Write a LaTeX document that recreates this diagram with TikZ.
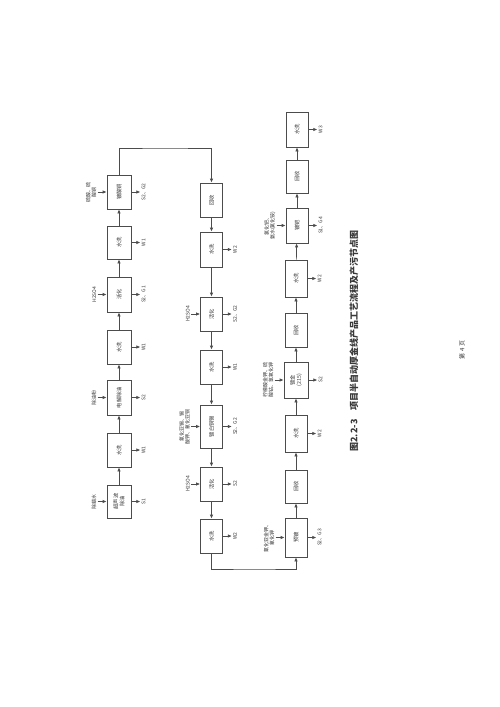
\documentclass[tikz,border=0pt]{standalone}
\usepackage{fontspec}
\setmainfont{Noto Sans CJK SC}
\usetikzlibrary{arrows.meta}
\definecolor{lineC}{gray}{0.3}
\definecolor{textC}{gray}{0.22}
\newcommand{\bxf}{\fontsize{5.3}{6.3}\selectfont}
\newcommand{\lbf}{\fontsize{5}{5.8}\selectfont}
\newcommand{\capf}{\fontsize{9}{10}\selectfont\bfseries}
\newcommand{\pnf}{\fontsize{6}{7}\selectfont}
\newcommand{\myin}[3]{\draw[arr] ([xshift=-9pt]#1.north) node[lbl,anchor=south] (#2) {#3} -- (#1.north);}
\newcommand{\myout}[3]{\draw[arr] (#1.south) -- ([xshift=9pt]#1.south) node[lbl,anchor=north] (#2) {#3};}
\begin{document}
\begin{tikzpicture}[x=1pt,y=-1pt,
  box/.style={draw=lineC, line width=0.7pt, fill=white, rotate=90, minimum width=34pt, minimum height=22pt, inner sep=1pt, align=center, font=\bxf, text=textC},
  lbl/.style={rotate=90, inner sep=1pt, align=center, font=\lbf, text=textC},
  arr/.style={draw=lineC, line width=0.7pt, -{Latex[length=4pt,width=3.4pt]}},
  link/.style={draw=lineC, line width=0.7pt}]
\useasboundingbox[fill=white] (0,0) rectangle (500,707);
% column 1
\node[box, minimum height=24pt, minimum width=33pt] (a1) at (119,501.5) {超声波\\除油};
\node[box, minimum height=24pt] (a2) at (119,450) {水洗};
\node[box, minimum height=24pt, minimum width=35pt] (a3) at (119,397.5) {电解除油};
\node[box, minimum height=24pt] (a4) at (119,347) {水洗};
\node[box, minimum height=24pt, minimum width=35pt] (a5) at (119,294.5) {活化};
\node[box, minimum height=24pt, minimum width=33pt] (a6) at (119,242.5) {水洗};
\node[box, minimum height=24pt] (a7) at (119,192) {镀酸铜};
\foreach \p/\q in {a1/a2,a2/a3,a3/a4,a4/a5,a5/a6,a6/a7} \draw[arr] (\p) -- (\q);
\myin{a1}{ia1}{除蜡水}
\myin{a3}{ia3}{除油粉}
\myin{a5}{ia5}{H2SO4}
\myin{a7}{ia7}{硫酸、硫\\酸铜}
\myout{a1}{oa1}{S1}
\myout{a2}{oa2}{W1}
\myout{a3}{oa3}{S2}
\myout{a4}{oa4}{W1}
\myout{a5}{oa5}{S2、G1}
\myout{a6}{oa6}{W1}
\myout{a7}{oa7}{S2、G2}
% column 2
\node[box, minimum width=34pt] (b1) at (211.5,200) {回收};
\node[box, minimum width=35pt] (b2) at (211.5,249.5) {水洗};
\node[box] (b3) at (211.5,314) {活化};
\node[box] (b4) at (211.5,367) {水洗};
\node[box, minimum width=43pt] (b5) at (211.5,426.5) {镀白铜锡};
\node[box] (b6) at (211.5,484) {活化};
\node[box] (b7) at (211.5,536) {水洗};
\foreach \p/\q in {b1/b2,b2/b3,b3/b4,b4/b5,b5/b6,b6/b7} \draw[arr] (\p) -- (\q);
\myin{b3}{ib3}{H2SO4}
\myin{b5}{ib5}{氰化亚锡、锡\\酸钾、氰化亚铜}
\myin{b6}{ib6}{H2SO4}
\myout{b2}{ob2}{W2}
\myout{b3}{ob3}{S2、G2}
\myout{b4}{ob4}{W1}
\myout{b5}{ob5}{S2、G2}
\myout{b6}{ob6}{S2}
\myout{b7}{ob7}{W2}
% column 3
\node[box, minimum width=39pt] (c1) at (296,537.5) {预镀};
\node[box, minimum width=33pt] (c2) at (296,486.5) {回收};
\node[box, minimum width=37pt] (c3) at (296,433.5) {水洗};
\node[box, minimum width=36pt, minimum height=24pt] (c4) at (296,380) {镀金\\(215)};
\node[box] (c5) at (296,330) {回收};
\node[box, minimum width=37pt] (c6) at (296,278.5) {水洗};
\node[box, minimum width=35pt] (c7) at (297,225.5) {镀钯};
\node[box, minimum width=33pt] (c8) at (297,176.5) {回收};
\node[box, minimum width=35pt] (c9) at (297,129.5) {水洗};
\foreach \p/\q in {c1/c2,c2/c3,c3/c4,c4/c5,c5/c6,c6/c7,c7/c8,c8/c9} \draw[arr] (\p) -- (\q);
\myin{c1}{ic1}{氰化亚金钾、\\氰化钾}
\myin{c4}{ic4}{柠檬酸金钾、硫\\酸钴、氢氧化钾}
\myin{c7}{ic7}{氯化钯、\\氨水(氯化铵)}
\myout{c1}{oc1}{S2、G3}
\myout{c3}{oc3}{W2}
\myout{c4}{oc4}{S2}
\myout{c6}{oc6}{W2}
\myout{c7}{oc7}{S1、G4}
\myout{c9}{oc9}{W3}
% links between columns
\coordinate (t1) at (165,148);
\coordinate (t2) at (255,569);
\draw[arr] (a7.east) |- (t1) -| (b1.east);
\draw[arr] (b7.west) |- (t2) -| (c1.west);
% caption and page number
\node[rotate=90, font=\capf, text=textC] (cap) at (354,341) {图2.2-3\quad 项目半自动厚金线产品工艺流程及产污节点图};
\node[rotate=90, font=\pnf, text=textC] (pg) at (462,350) {第 4 页};
\end{tikzpicture}
\end{document}
